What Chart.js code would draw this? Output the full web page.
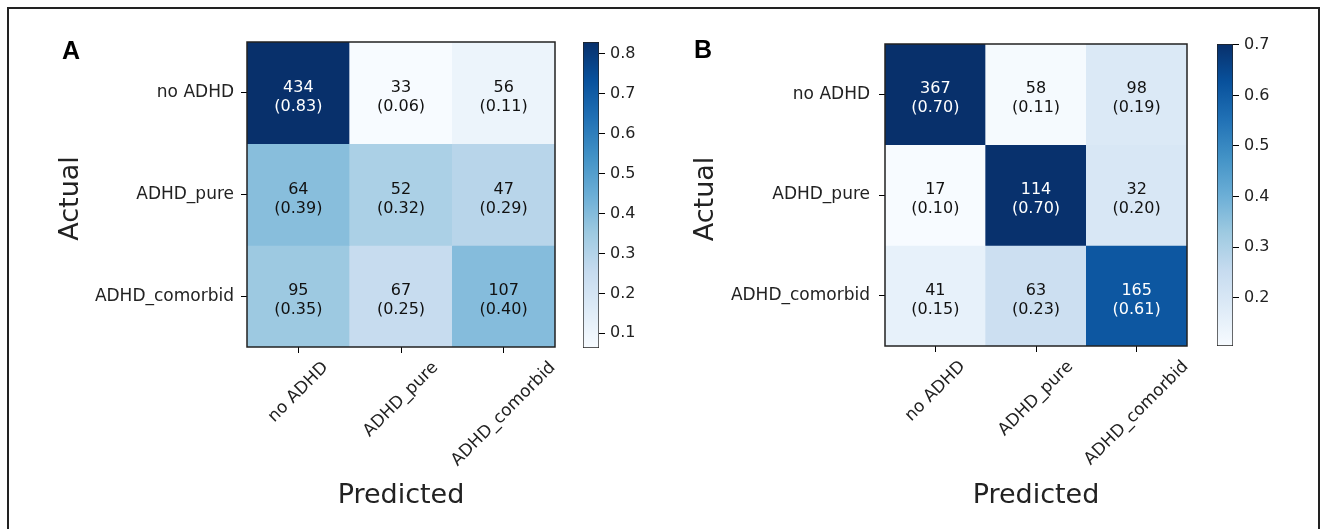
<!DOCTYPE html>
<html><head><meta charset="utf-8">
<script src="https://cdn.jsdelivr.net/npm/chart.js@4.4.1/dist/chart.umd.min.js"></script>
<style>
html,body{margin:0;padding:0;background:#fff;width:1321px;height:529px;overflow:hidden;}
#frame{position:absolute;left:7px;top:7px;width:1313px;height:540px;border:2px solid #222;box-sizing:border-box;}
canvas{position:absolute;top:0;}
</style></head><body>
<div id="frame"></div>
<canvas id="hmA" width="575" height="529" style="left:0px"></canvas>
<canvas id="cbA" width="70" height="529" style="left:583px"></canvas>
<canvas id="hmB" width="575" height="529" style="left:640px"></canvas>
<canvas id="cbB" width="70" height="529" style="left:1217px"></canvas>
<script>
// ---- data ----
const actualLabels = ['no ADHD', 'ADHD_pure', 'ADHD_comorbid'];
const predictedLabels = ['no ADHD', 'ADHD_pure', 'ADHD_comorbid'];
// Panel A counts (rows = actual)
const countsA_noADHD = [434, 33, 56];
const countsA_pure = [64, 52, 47];
const countsA_comorbid = [95, 67, 107];
// Panel B counts
const countsB_noADHD = [367, 58, 98];
const countsB_pure = [17, 114, 32];
const countsB_comorbid = [41, 63, 165];
// colorbar tick labels
const colorbarTicksA = [0.1, 0.2, 0.3, 0.4, 0.5, 0.6, 0.7, 0.8];
const colorbarTicksB = [0.2, 0.3, 0.4, 0.5, 0.6, 0.7];

// ---- matplotlib "Blues" colormap ----
const BLUES = ['#f7fbff','#deebf7','#c6dbef','#9ecae1','#6baed6','#4292c6','#2171b5','#08519c','#08306b'];
function hexToRgb(h){return [parseInt(h.slice(1,3),16),parseInt(h.slice(3,5),16),parseInt(h.slice(5,7),16)];}
const BLUES_RGB = BLUES.map(hexToRgb);
function blues(t){
  t = Math.max(0, Math.min(1, t));
  const p = t * (BLUES_RGB.length - 1);
  const i = Math.min(Math.floor(p), BLUES_RGB.length - 2);
  const f = p - i;
  const a = BLUES_RGB[i], b = BLUES_RGB[i+1];
  const c = a.map((v,k)=>Math.round(v + (b[k]-v)*f));
  return `rgb(${c[0]},${c[1]},${c[2]})`;
}

const FONT = "'DejaVu Sans', 'Noto Sans', sans-serif";
const TXT = '#222';
const H = 529;
const TICK_SIZE = 17;
const ANNOT_SIZE = 16;
const TITLE_SIZE = 27;

function shareRows(rows){
  return rows.map(r => { const s = r.reduce((a,b)=>a+b,0); return r.map(v => v / s); });
}

function makeHeatmap(id, rows, cfg){
  const canvas = document.getElementById(id);
  const W = canvas.width;
  const shares = shareRows(rows);
  const all = shares.flat();
  const vmin = Math.min(...all), vmax = Math.max(...all);
  const datasets = rows.map((r, i) => ({
    label: actualLabels[i],
    data: r.map(() => [i - 0.5, i + 0.5]),
    backgroundColor: shares[i].map(v => blues((v - vmin) / (vmax - vmin))),
    borderWidth: 0,
    grouped: false,
    barPercentage: 1,
    categoryPercentage: 1
  }));
  const annot = {
    id: 'annot',
    afterDatasetsDraw(chart){
      const ctx = chart.ctx;
      const ca = chart.chartArea;
      ctx.save();
      // cell annotations
      ctx.textAlign = 'center';
      ctx.textBaseline = 'middle';
      ctx.font = `${ANNOT_SIZE}px ${FONT}`;
      rows.forEach((r, i) => {
        const meta = chart.getDatasetMeta(i);
        r.forEach((cnt, j) => {
          const el = meta.data[j];
          const cx = el.x, cy = (el.y + el.base) / 2;
          const s = shares[i][j];
          ctx.fillStyle = s > vmax / 2 ? '#ffffff' : '#111111';
          ctx.fillText(String(cnt), cx, cy - 5);
          ctx.fillText('(' + s.toFixed(2) + ')', cx, cy + 14);
        });
      });
      // frame
      ctx.strokeStyle = '#222';
      ctx.lineWidth = 1.5;
      ctx.strokeRect(ca.left, ca.top, ca.right - ca.left, ca.bottom - ca.top);
      // rotated x tick labels (bbox centered under tick, matplotlib style)
      const xs = chart.scales.x;
      ctx.fillStyle = TXT;
      ctx.font = `${TICK_SIZE}px ${FONT}`;
      const top = ca.bottom + 11;
      const hgt = TICK_SIZE * 1.16;
      predictedLabels.forEach((lab, j) => {
        const x = xs.getPixelForValue(j);
        const w = ctx.measureText(lab).width;
        const side = (w + hgt) * Math.SQRT1_2;
        ctx.save();
        ctx.translate(x, top + side / 2);
        ctx.rotate(-Math.PI / 4);
        ctx.textAlign = 'center';
        ctx.textBaseline = 'middle';
        ctx.fillText(lab, 0, 0);
        ctx.restore();
      });
      // axis titles
      ctx.font = `${TITLE_SIZE}px ${FONT}`;
      ctx.textAlign = 'center';
      ctx.textBaseline = 'alphabetic';
      ctx.fillText('Predicted', (ca.left + ca.right) / 2, cfg.xTitleY);
      ctx.save();
      ctx.translate(cfg.yTitleX, (ca.top + ca.bottom) / 2 + 4);
      ctx.rotate(-Math.PI / 2);
      ctx.fillText('Actual', 0, 0);
      ctx.restore();
      // panel letter
      ctx.font = `bold 25px 'Liberation Sans', Arial, sans-serif`;
      ctx.textAlign = 'left';
      ctx.fillStyle = '#000';
      ctx.fillText(cfg.letter, cfg.letterX, cfg.letterY);
      ctx.restore();
    }
  };
  new Chart(canvas.getContext('2d'), {
    type: 'bar',
    data: { labels: predictedLabels, datasets },
    options: {
      responsive: false,
      animation: false,
      layout: { padding: { left: 0, top: cfg.top, right: W - cfg.right, bottom: 0 } },
      plugins: { legend: { display: false }, tooltip: { enabled: false } },
      scales: {
        x: {
          type: 'category',
          offset: true,
          grid: { display: true, drawOnChartArea: false, drawTicks: true, tickLength: 6, offset: false, color: '#000' },
          border: { display: false },
          ticks: { display: false },
          afterFit: s => { s.height = H - cfg.bottom; }
        },
        y: {
          type: 'linear',
          reverse: true,
          min: -0.5,
          max: 2.5,
          afterBuildTicks: s => { s.ticks = [0, 1, 2].map(v => ({ value: v })); },
          ticks: { callback: v => actualLabels[v], font: { family: FONT, size: TICK_SIZE }, color: TXT, padding: cfg.tickPad },
          grid: { drawOnChartArea: false, drawTicks: true, tickLength: 6, color: '#000' },
          border: { display: false },
          afterFit: s => { s.width = cfg.left; }
        }
      }
    },
    plugins: [annot]
  });
  return { vmin, vmax };
}

function makeColorbar(id, range, tickVals, top, bottom){
  const canvas = document.getElementById(id);
  const W = canvas.width;
  const barW = 16;
  new Chart(canvas.getContext('2d'), {
    type: 'bar',
    data: {
      labels: ['cb'],
      datasets: [{
        data: [[range.vmin, range.vmax]],
        backgroundColor: (c) => {
          const chart = c.chart;
          const ys = chart.scales.y;
          if (!chart.chartArea || !ys) return '#ffffff';
          const g = chart.ctx.createLinearGradient(0, ys.getPixelForValue(range.vmin), 0, ys.getPixelForValue(range.vmax));
          BLUES.forEach((col, i) => g.addColorStop(i / (BLUES.length - 1), col));
          return g;
        },
        borderColor: '#222',
        borderWidth: 1,
        borderSkipped: false,
        barPercentage: 1,
        categoryPercentage: 1
      }]
    },
    options: {
      responsive: false,
      animation: false,
      layout: { padding: { left: 0, right: 0, top: top, bottom: H - bottom } },
      plugins: { legend: { display: false }, tooltip: { enabled: false } },
      scales: {
        x: { display: false },
        y: {
          position: 'right',
          min: range.vmin,
          max: range.vmax,
          afterBuildTicks: s => { s.ticks = tickVals.map(v => ({ value: v })); },
          ticks: { callback: v => v.toFixed(1), font: { family: FONT, size: 16 }, color: TXT, padding: 5 },
          grid: { drawOnChartArea: false, drawTicks: true, tickLength: 6, color: '#000' },
          border: { display: false },
          afterFit: s => { s.width = W - barW; }
        }
      }
    }
  });
}

const rA = makeHeatmap('hmA', [countsA_noADHD, countsA_pure, countsA_comorbid],
  { left: 247, right: 555, top: 42, bottom: 347, tickPad: 7, xTitleY: 503, yTitleX: 78, letter: 'A', letterX: 62, letterY: 59 });
makeColorbar('cbA', rA, colorbarTicksA, 42, 348);

const rB = makeHeatmap('hmB', [countsB_noADHD, countsB_pure, countsB_comorbid],
  { left: 245, right: 547, top: 44, bottom: 346, tickPad: 9, xTitleY: 503, yTitleX: 73, letter: 'B', letterX: 54, letterY: 58 });
makeColorbar('cbB', rB, colorbarTicksB, 44, 346);
</script>
</body></html>
